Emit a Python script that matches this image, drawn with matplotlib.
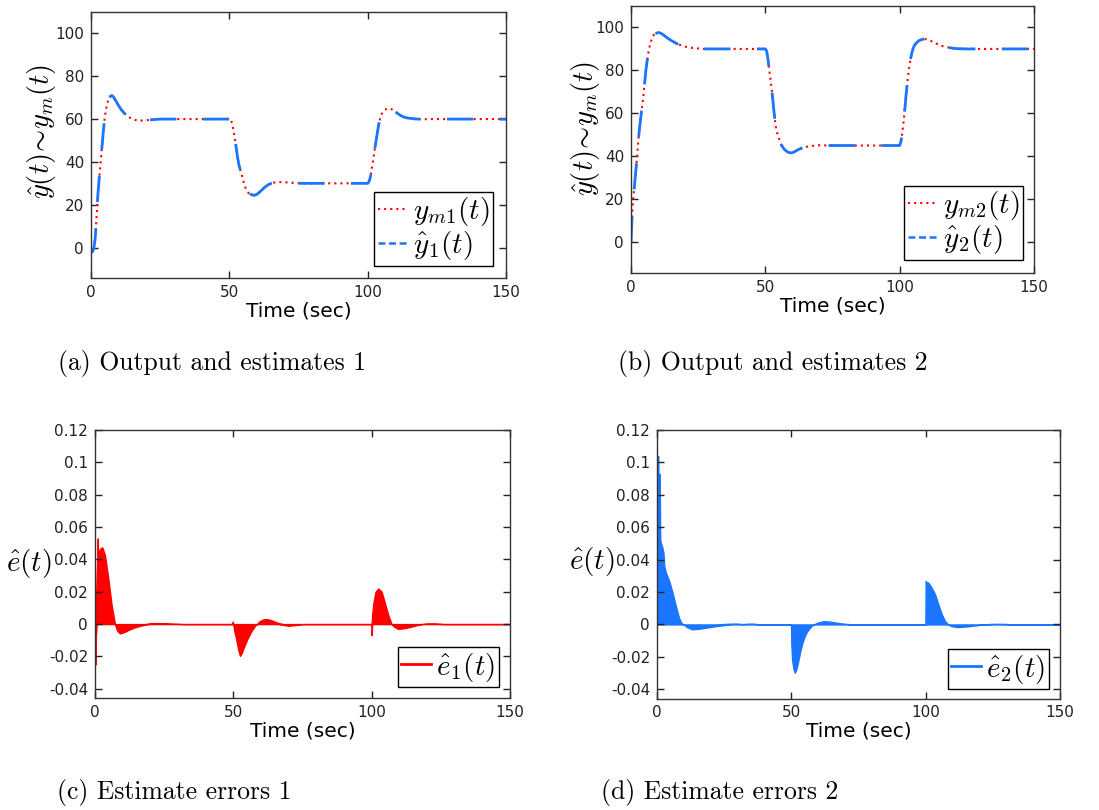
import numpy as np
import matplotlib
matplotlib.use("Agg")
from matplotlib import pyplot as plt
from matplotlib.lines import Line2D

# --- data --------------------------------------------------------------
# (a) model output 1 and its estimate (the estimate lies on the model output)
t_a = [0, 0.5, 1, 1.5, 2, 2.5, 3, 3.5, 4, 4.5, 5, 5.5, 6, 6.5, 7, 7.5, 8, 9, 10,
       11, 12, 13, 14, 15, 16, 17, 18, 20, 22, 25, 50,
       50.5, 51, 51.5, 52, 52.5, 53, 53.5, 54, 54.5, 55, 55.5, 56, 56.5, 57, 58,
       59, 60, 61, 62, 63, 64, 65, 66, 67, 69, 72, 76, 100,
       100.5, 101, 101.5, 102, 102.5, 103, 103.5, 104, 104.5, 105, 105.5, 106,
       107, 108, 109, 110, 111, 112, 113, 114, 115, 117, 120, 123, 150]
y_m1 = [-1, -2, -0.5, 4, 14, 25, 33, 40, 47.5, 55, 61, 65, 67.8, 69.6, 70.6, 71,
        70.6, 68.5, 66.2, 64.3, 62.8, 61.6, 60.7, 60.1, 59.6, 59.4, 59.3, 59.5,
        59.7, 60, 60,
        59.7, 58, 54.5, 51, 46.5, 42, 38.5, 36, 34, 31.5, 29, 27.3, 26.2, 25.4,
        24.7, 24.4, 24.9, 26, 27.2, 28.4, 29.3, 29.9, 30.3, 30.5, 30.6, 30.3, 30,
        30,
        30.8, 33, 37, 41, 45.5, 49.5, 53.5, 57.5, 60.3, 62.2, 63.4, 64.2, 64.9,
        65, 64.4, 63.4, 62.5, 61.6, 61, 60.6, 60.4, 60.1, 59.9, 60, 60]
y_hat1 = list(y_m1)

# (b) model output 2 and its estimate
t_b = [0, 0.4, 0.8, 1.2, 2, 2.5, 3, 3.5, 4, 4.5, 5, 5.5, 6, 6.5, 7, 7.5, 8, 8.5,
       9, 10, 11, 12, 13, 14, 15, 16, 17, 18, 19, 20, 22, 24, 27, 50,
       50.5, 51, 51.5, 52, 52.5, 53, 53.5, 54, 54.5, 55, 55.5, 56, 57, 58, 59,
       60, 61, 62, 63, 64, 66, 68, 70, 74, 100,
       100.5, 101, 101.5, 102, 102.5, 103, 103.5, 104, 104.5, 105, 105.5, 106,
       107, 108, 109, 110, 111, 112, 113, 114, 115, 116, 118, 120, 122, 125, 150]
y_m2 = [0, 12, 20, 25, 36, 44, 51, 56.5, 62, 67, 73, 79.5, 84.5, 88.5, 91.5, 93.8,
        95.5, 96.5, 97.1, 97.6, 97.4, 96.6, 95.6, 94.7, 93.9, 93.2, 92.5, 92,
        91.5, 91.1, 90.6, 90.3, 90, 90,
        89, 85, 80, 75, 69.5, 63.5, 57.5, 53, 50.5, 48.5, 46.8, 45.2, 43.3, 42.2,
        41.6, 41.6, 42.2, 42.9, 43.5, 44, 44.6, 44.9, 45.1, 45, 45,
        47, 51, 56.5, 63, 70, 76, 81, 85, 88, 90.2, 91.6, 92.5, 93.7, 94.3, 94.6,
        94.5, 94.1, 93.5, 92.9, 92.3, 91.8, 91.3, 90.7, 90.3, 90.1, 90, 90]
y_hat2 = list(y_m2)

# (c) estimate error 1, envelope of the fast oscillation
t_e1 = [0, 0.15, 0.3, 0.6, 0.9, 1.0, 1.1, 1.3, 1.8, 2.6, 3.6, 4.8, 6.0, 7.2, 8.0,
        9.0, 10.5, 12, 14, 16, 18, 20, 24, 28, 32,
        49.6, 49.8, 50.0, 50.3, 51, 51.8, 52.4, 53, 54, 55, 56, 57, 58, 58.5, 59.5,
        61, 62.5, 64, 66, 68, 70, 72, 75,
        99.9, 100.0, 100.2, 100.6, 101.4, 102.4, 103.6, 104.8, 106, 107.2, 108,
        109.6, 112, 114, 116, 118, 120, 123, 126, 150]
e1_hi = [0, 0, 0.01, 0.03, 0.045, 0.053, 0.042, 0.044, 0.0465, 0.0475, 0.0427,
         0.0283, 0.0118, 0, 0, 0, 0, 0, 0, 0, 0, 0.0006, 0.0006, 0.0003, 0,
         0, 0.0015, 0, 0, 0, 0, 0, 0, 0, 0, 0, 0, 0, 0, 0.0018, 0.003, 0.003,
         0.0022, 0.0008, 0, 0, 0, 0,
         0, 0, 0.006, 0.0128, 0.02, 0.022, 0.02, 0.0128, 0.0056, 0, 0, 0, 0, 0,
         0, 0, 0.0004, 0.0004, 0, 0]
e1_lo = [0, -0.025, -0.008, 0, 0, 0, 0, 0, 0, 0, 0, 0, 0, 0, -0.004, -0.0058,
         -0.005, -0.0037, -0.0022, -0.0012, -0.0004, 0, 0, 0, 0,
         0, 0, 0, -0.004, -0.009, -0.016, -0.0196, -0.018, -0.0135, -0.0095,
         -0.006, -0.003, -0.0008, 0, 0, 0, 0, 0, 0, -0.0005, -0.001, -0.0007, 0,
         0, -0.0068, 0, 0, 0, 0, 0, 0, 0, 0, -0.0015, -0.003, -0.0025, -0.0017,
         -0.0008, 0, 0, 0, 0, 0]

# (d) estimate error 2, envelope of the fast oscillation
t_e2 = [0, 0.15, 0.4, 0.6, 0.8, 1.0, 1.2, 1.5, 2.0, 2.4, 2.7, 3.3, 4.5, 5.7, 6.9,
        8.2, 9.1, 10.0, 11, 13, 16, 19, 22, 25, 28, 30, 32, 34, 36, 38,
        49.7, 49.9, 50.0, 50.3, 50.8, 51.3, 51.8, 52.4, 53.2, 54, 54.8, 55.6,
        56.5, 57.5, 58.2, 60, 62, 64, 66, 68, 70, 73,
        99.9, 100.0, 100.3, 101, 102.2, 103.5, 104.7, 106, 107.2, 108.4, 109.5,
        111.5, 114, 116.5, 120, 122, 124, 127, 130, 131, 150]
e2_hi = [0, 0.05, 0.104, 0.06, 0.05, 0.093, 0.052, 0.05, 0.0474, 0.0443, 0.036,
         0.032, 0.027, 0.02, 0.012, 0.004, 0.0008, 0, 0, 0, 0, 0, 0, 0.0003,
         0.0005, 0.0005, 0.0002, 0.0005, 0.0005, 0,
         0, 0, 0, 0, 0, 0, 0, 0, 0, 0, 0, 0, 0, 0, 0, 0.0012, 0.002, 0.0018,
         0.0013, 0.0008, 0.0004, 0,
         0, 0.0268, 0.026, 0.0258, 0.0227, 0.0186, 0.0124, 0.0062, 0.002, 0, 0,
         0, 0, 0, 0, 0, 0.0003, 0.0004, 0.0003, 0, 0]
e2_lo = [0, 0, 0, 0, 0, 0, 0, 0, 0, 0, 0, 0, 0, 0, 0, 0, 0, 0, -0.0015, -0.003,
         -0.0026, -0.0018, -0.001, -0.0004, 0, 0, 0, 0, 0, 0,
         0, 0, -0.012, -0.022, -0.0275, -0.0298, -0.028, -0.024, -0.0175, -0.012,
         -0.008, -0.005, -0.0028, -0.001, 0, 0, 0, 0, 0, 0, 0, 0,
         0, 0, 0, 0, 0, 0, 0, 0, 0, 0, -0.001, -0.0016, -0.0014, -0.001,
         -0.0003, 0, 0, 0, 0, 0, 0]

x_ticks = [0, 50, 100, 150]
y_ticks_top = [0, 20, 40, 60, 80, 100]
y_ticks_err = [-0.04, -0.02, 0, 0.02, 0.04, 0.06, 0.08, 0.1, 0.12]
y_labels_err = ['-0.04', '-0.02', '0', '0.02', '0.04', '0.06', '0.08', '0.1', '0.12']
captions = ['(a) Output and estimates 1', '(b) Output and estimates 2',
            '(c) Estimate errors 1', '(d) Estimate errors 2']

# --- style ----------------------------------------------------------------
plt.rcParams['mathtext.fontset'] = 'cm'
plt.rcParams['axes.unicode_minus'] = False
plt.rcParams['lines.scale_dashes'] = False
plt.rcParams['font.family'] = 'DejaVu Sans'

RED = '#ff0000'
BLUE = '#1a75ff'
DOT = (0, (1.5, 2.9))
DASH = (0, (19, 19))

W, H = 1099, 810
fig = plt.figure(figsize=(W / 100, H / 100), dpi=100)


def box(left, top, right, bottom):
    return [left / W, 1 - bottom / H, (right - left) / W, (bottom - top) / H]


def style(ax):
    ax.set_xlim(0, 150)
    ax.set_xticks(x_ticks)
    ax.tick_params(direction='in', length=5, width=1, top=True, right=True,
                   labelsize=11, pad=5, colors='#222222')
    for s in ax.spines.values():
        s.set_linewidth(1.0)
        s.set_color('#333333')
    ax.set_xlabel('Time (sec)', fontsize=14.5, labelpad=1)


def legend(ax, handles, labels, x, y):
    leg = ax.legend(handles, labels, loc='lower right',
                    bbox_to_anchor=(x / W, 1 - y / H), bbox_transform=fig.transFigure,
                    borderaxespad=0, fontsize=21, handlelength=1.0, handletextpad=0.2,
                    labelspacing=0.05, borderpad=0.12, fancybox=False,
                    edgecolor='black', framealpha=1)
    leg.get_frame().set_linewidth(1.0)


# (a)
ax_a = fig.add_axes(box(91, 12, 506, 278))
ax_a.plot(t_a, y_m1, color=RED, ls=DOT, lw=1.5)
ax_a.plot(t_a, y_hat1, color=BLUE, ls=DASH, lw=2)
ax_a.set_ylim(-14.2, 110)
ax_a.set_yticks(y_ticks_top)
style(ax_a)

# (b)
ax_b = fig.add_axes(box(631, 6, 1034, 273))
ax_b.plot(t_b, y_m2, color=RED, ls=DOT, lw=1.5)
ax_b.plot(t_b, y_hat2, color=BLUE, ls=DASH, lw=2)
ax_b.set_ylim(-14.4, 110)
ax_b.set_yticks(y_ticks_top)
style(ax_b)

# (c)
ax_c = fig.add_axes(box(95, 430, 510, 698))
ax_c.fill_between(t_e1, e1_lo, e1_hi, color=RED, lw=1.0)
ax_c.set_ylim(-0.0457, 0.12)
ax_c.set_yticks(y_ticks_err, y_labels_err)
style(ax_c)

# (d)
ax_d = fig.add_axes(box(657, 430, 1060, 698.5))
ax_d.fill_between(t_e2, e2_lo, e2_hi, color=BLUE, lw=1.0)
ax_d.set_ylim(-0.0457, 0.12)
ax_d.set_yticks(y_ticks_err, y_labels_err)
style(ax_d)

# legends
dot_h = Line2D([], [], color=RED, ls=DOT, lw=1.5)
dash_h = Line2D([], [], color=BLUE, ls=(0, (5, 2.6)), lw=1.8)
legend(ax_a, [dot_h, dash_h], [r'$y_{m1}(t)$', r'$\hat{y}_1(t)$'], 493, 266)
legend(ax_b, [dot_h, dash_h], [r'$y_{m2}(t)$', r'$\hat{y}_2(t)$'], 1023, 260)
legend(ax_c, [Line2D([], [], color=RED, lw=2)], [r'$\hat{e}_1(t)$'], 499, 687)
legend(ax_d, [Line2D([], [], color=BLUE, lw=2)], [r'$\hat{e}_2(t)$'], 1049, 689)

# y labels
ylab = r'$\hat{y}(t)\!\sim\! y_m(t)$'
fig.text(42 / W, 1 - 132 / H, ylab, fontsize=20.5, rotation=90, ha='center', va='center')
fig.text(586 / W, 1 - 129 / H, ylab, fontsize=20.5, rotation=90, ha='center', va='center')
fig.text(29 / W, 1 - 563 / H, r'$\hat{e}(t)$', fontsize=21, ha='center', va='center')
fig.text(592 / W, 1 - 562 / H, r'$\hat{e}(t)$', fontsize=21, ha='center', va='center')

# captions
for (cx, cy), txt in zip([(58, 363), (618, 363), (57, 793), (601, 793)], captions):
    fig.text(cx / W, 1 - cy / H, txt, family='cmr10', fontsize=18.5,
             ha='left', va='center')

fig.savefig('out.png', dpi=100)
